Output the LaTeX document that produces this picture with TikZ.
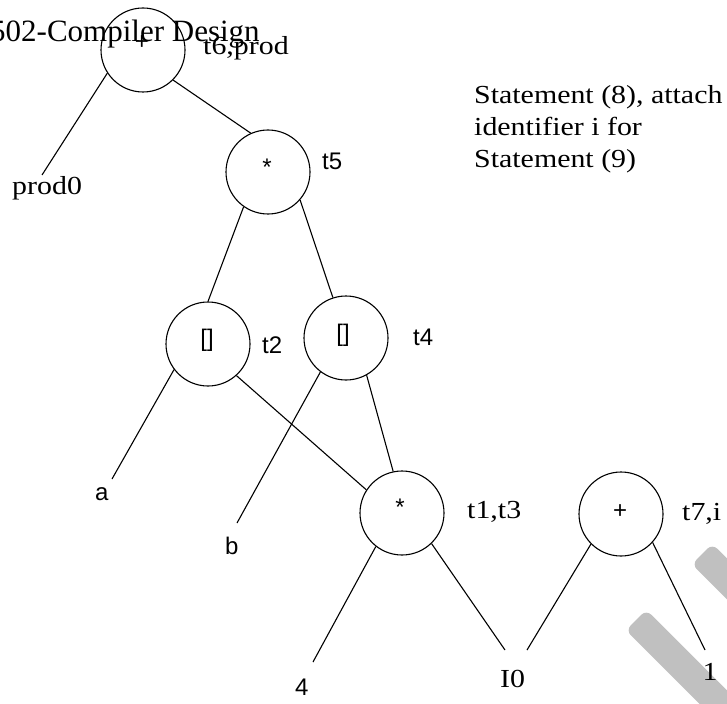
\documentclass[tikz,border=0pt]{standalone}
\usepackage{fontspec}
\setmainfont{Liberation Serif}
\newfontfamily\labser[FakeStretch=1.15]{Liberation Serif}
\newfontfamily\labsans{Liberation Sans}
\definecolor{wm}{RGB}{192,192,192}
\begin{document}
\begin{tikzpicture}[x=1pt,y=-1pt,
  opnode/.style={circle,draw,line width=1.1pt,minimum size=84pt,inner sep=0pt},
  conn/.style={line width=1.1pt},
  sertext/.style={inner sep=0pt,anchor=base west,font=\labser\fontsize{26}{32}\selectfont},
  sanstext/.style={inner sep=0pt,anchor=base west,font=\labsans\fontsize{24}{28}\selectfont},
  symtext/.style={inner sep=0pt,anchor=base,font=\labsans\fontsize{24}{28}\selectfont},
  band/.style={fill=wm,rounded corners=7pt}]
\useasboundingbox (0,0) rectangle (727,703);
% watermark bands
\begin{scope}
\clip (0,0) rectangle (727,703);
\fill[band] (646.25,609.75) -- ++(150,150) -- ++(-20.5,20.5) -- ++(-150,-150) -- cycle;
\fill[band] (712.25,543.75) -- ++(150,150) -- ++(-20.5,20.5) -- ++(-150,-150) -- cycle;
\end{scope}
% operator circles
\node[opnode] (n6) at (143,50) {};
\node[opnode] (n5) at (268,172) {};
\node[opnode] (n2) at (208,344) {};
\node[opnode] (n4) at (346,338) {};
\node[opnode] (n1) at (402,513) {};
\node[opnode] (n7) at (621,514) {};
% operator symbols
\node[symtext] (s6) at (142,50) {+};
\node[symtext] (s5) at (267,176) {*};
\node[symtext] (s2) at (207,346) {[]};
\node[symtext] (s4) at (343,341) {[]};
\node[symtext] (s1) at (400,515) {*};
\node[symtext] (s7) at (620,518) {+};
% attached identifiers
\node[sertext] (l6) at (203,55) {t6,prod};
\node[sanstext] (l5) at (322,170) {t5};
\node[sanstext] (l2) at (262,353) {t2};
\node[sanstext] (l4) at (413,345) {t4};
\node[sertext] (l1) at (467,518) {t1,t3};
\node[sertext] (l7) at (682,520) {t7,i};
% leaves
\node[sertext] (prod0) at (12,195) {prod0};
\node[sanstext] (a) at (95,500) {a};
\node[sanstext] (b) at (225,554) {b};
\node[sanstext] (four) at (295,695) {4};
\node[sertext] (izero) at (500,687) {I0};
\node[sertext,anchor=base] (one) at (710,680) {1};
% note
\node[sertext] (st1) at (474,104) {Statement (8), attach};
\node[sertext] (st2) at (474,136) {identifier i for};
\node[sertext] (st3) at (474,168) {Statement (9)};
% connector free ends
\coordinate (eprod) at (42,175);
\coordinate (ea) at (112,479);
\coordinate (eb) at (237,523);
\coordinate (efour) at (313,662);
\coordinate (eizl) at (505,650);
\coordinate (eizr) at (527,650);
\coordinate (eone) at (705,650);
% connectors
\draw[conn] (n6.213) -- (eprod);
\draw[conn] (n6.315) -- (n5.114);
\draw[conn] (n5.235) -- (n2.90);
\draw[conn] (n5.319) -- (n4.108);
\draw[conn] (n2.217) -- (ea);
\draw[conn] (n2.312) -- (n1.147);
\draw[conn] (n4.233) -- (eb);
\draw[conn] (n4.299) -- (n1.102);
\draw[conn] (n1.232) -- (efour);
\draw[conn] (n1.314) -- (eizl);
\draw[conn] (n7.225) -- (eizr);
\draw[conn] (n7.318) -- (eone);
% header text
\begin{scope}
\clip (0,0) rectangle (727,703);
\node[inner sep=0pt,anchor=base west,font=\fontsize{31}{36}\selectfont] (title) at (-10,42) {502-Compiler Design};
\end{scope}
\end{tikzpicture}
\end{document}
